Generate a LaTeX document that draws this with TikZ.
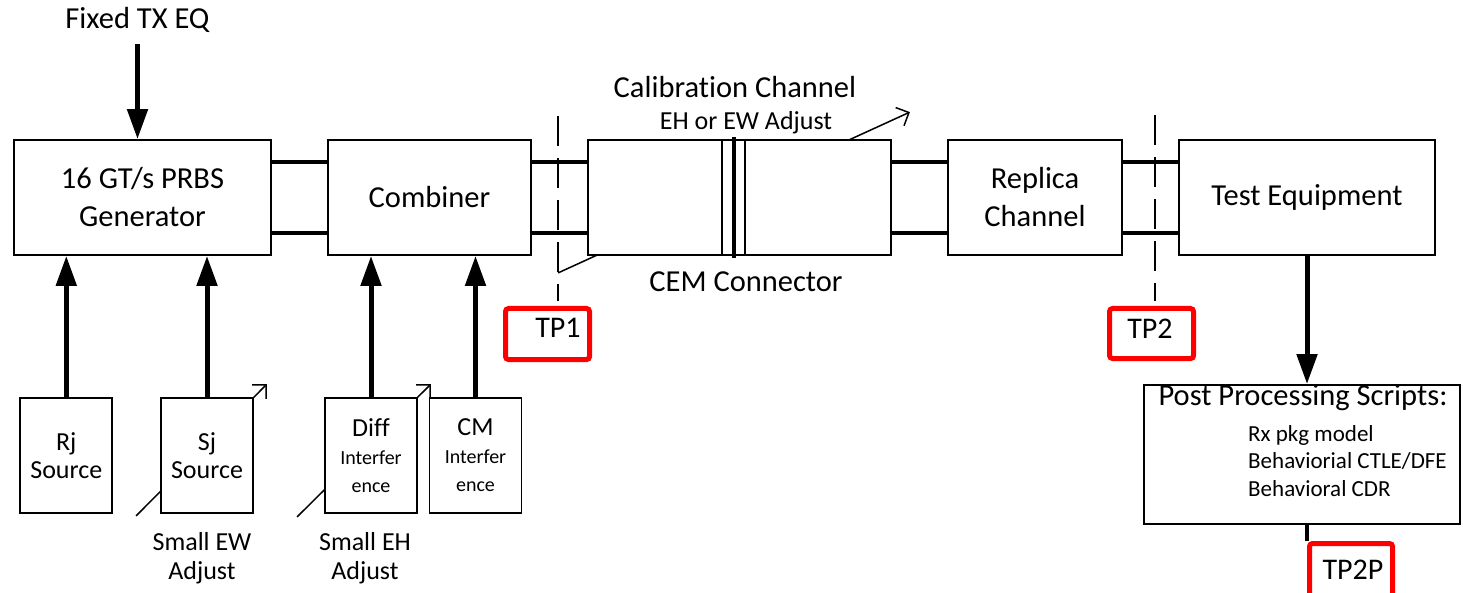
\documentclass[tikz,border=0pt]{standalone}
\usepackage{fontspec}
\setmainfont{Carlito}[Ligatures=NoCommon]
\usetikzlibrary{arrows.meta,calc,backgrounds,shadows}
\newcommand{\smallinter}{\fontsize{20}{25}\selectfont}
\begin{document}
\begin{tikzpicture}[x=1pt,y=-1pt,
  box/.style={draw,line width=1.8pt,fill=white,inner sep=0pt,align=center,minimum height=115pt,font=\fontsize{30.5}{38}\selectfont},
  src/.style={draw,line width=1.8pt,fill=white,inner sep=0pt,align=center,minimum height=115pt,minimum width=92pt,font=\fontsize{26}{28}\selectfont},
  lbl/.style={inner sep=0pt,align=center,font=\fontsize{30.5}{38}\selectfont},
  slbl/.style={inner sep=0pt,align=center,font=\fontsize{26}{29}\selectfont},
  wire/.style={line width=4.5pt},
  bigarrow/.style={line width=5pt,-{Triangle[length=30pt,width=20pt]}},
  adjarrow/.style={line width=1.5pt,-{Straight Barb[length=10pt,width=20pt]}},
  tpline/.style={line width=1.5pt,dash pattern=on 30pt off 12pt},
  tpbox/.style={draw=red,line width=5pt,rounded corners=3pt,fill=white,inner sep=0pt,drop shadow={opacity=0.3,shadow xshift=2pt,shadow yshift=-2pt,fill=black}},
  tplbl/.style={inner sep=0pt,font=\fontsize{30}{36}\selectfont}
]
\useasboundingbox (0,0) rectangle (1463,593);

% main chain
\node[box,minimum width=257pt] (gen) at (142.5,197.5) {16 GT/s PRBS\\Generator};
\node[box,minimum width=203pt] (comb) at (429.5,197.5) {Combiner};
\node[box,minimum width=303pt] (cal) at (739.5,197.5) {};
\node[box,minimum width=174pt] (rep) at (1035,197.5) {Replica\\Channel};
\node[box,minimum width=256pt] (te) at (1307,197.5) {Test Equipment};

% sources
\node[src] (rj) at (66.3,455.5) {Rj\\Source};
\node[src] (sj) at (207,455.5) {Sj\\Source};
\node[src] (diff) at (371,455.5) {Diff\\\smallinter Interfer\\\smallinter ence};
\node[src] (cm) at (475.5,455.5) {CM\\\smallinter Interfer\\\smallinter ence};

% post processing
\node[draw,line width=1.8pt,fill=white,minimum width=316pt,minimum height=139pt,inner sep=0pt] (post) at (1302,454.5) {};
\node[lbl,font=\fontsize{30.5}{36}\selectfont] (postt) at (1303,398) {Post Processing Scripts:};
\node[inner sep=0pt,align=left,anchor=west,font=\fontsize{23}{27.5}\selectfont] (postl) at (1248,461) {Rx pkg model\\Behaviorial CTLE/DFE\\Behavioral CDR};

% adjust arrows (behind boxes)
\begin{scope}[on background layer]
\draw[adjarrow] ($(sj.south west)+(-24,2)$) -- ($(sj.north east)+(13,-13)$);
\draw[adjarrow] ($(diff.south west)+(-27,3)$) -- ($(diff.north east)+(13,-13)$);
\draw[adjarrow] ($(cal.south west)+(-29,17)$) -- ($(cal.north east)+(18,-27)$);
\end{scope}

% CEM connector inside calibration channel
\draw[line width=1.8pt] ($(cal.north)+(-17.5,0)$) -- ($(cal.south)+(-17.5,0)$);
\draw[line width=1.8pt] ($(cal.north)+(5.5,0)$) -- ($(cal.south)+(5.5,0)$);
\draw[line width=4pt] ($(cal.north)+(-6,-2)$) -- ($(cal.south)+(-6,2)$);

% differential wires
\foreach \a/\b in {gen/comb,comb/cal,cal/rep,rep/te}{
  \draw[wire] ($(\a.east)+(0,-35.5)$) -- ($(\b.west)+(0,-35.5)$);
  \draw[wire] ($(\a.east)+(0,35.5)$) -- ($(\b.west)+(0,35.5)$);
}

% labels
\node[lbl] (fix) at (137.5,20) {Fixed TX EQ};
\node[lbl] (calt) at (735,87) {Calibration Channel};
\node[slbl] (eht) at (746,123) {EH or EW Adjust};
\node[lbl] (cemt) at (746,282) {CEM Connector};
\node[slbl] (ewt) at (202,558) {Small EW\\Adjust};
\node[slbl] (ehs) at (365,558) {Small EH\\Adjust};

% arrows
\draw[bigarrow,shorten <=24pt] (fix.center) -- (fix.center |- gen.north);
\draw[bigarrow] (rj.north) -- (rj.north |- gen.south);
\draw[bigarrow] (sj.north) -- (sj.north |- gen.south);
\draw[bigarrow] (diff.north) -- (diff.north |- comb.south);
\draw[bigarrow] (cm.north) -- (cm.north |- comb.south);
\draw[bigarrow] (te.south) -- (te.south |- post.north);

% test points
\node[tpbox,minimum width=84pt,minimum height=51pt] (tp1) at (547.5,334) {};
\node[tplbl] (tp1t) at (558,328) {TP1};
\node[tpbox,minimum width=84pt,minimum height=50pt] (tp2) at (1151.5,333.5) {};
\node[tplbl] (tp2t) at (1150,329) {TP2};
\node[tpbox,minimum width=83pt,minimum height=53pt] (tp2p) at (1351,570) {};
\node[tplbl] (tp2pt) at (1353,570) {TP2P};

\coordinate (d1) at (558,116);
\coordinate (d2) at (1155,115);
\draw[tpline,shorten >=5pt] (d1) -- (d1 |- tp1.north);
\draw[tpline,shorten >=5pt] (d2) -- (d2 |- tp2.north);

\draw[line width=4pt] (te.south |- post.south) -- (te.south |- tp2p.north);
\end{tikzpicture}
\end{document}
